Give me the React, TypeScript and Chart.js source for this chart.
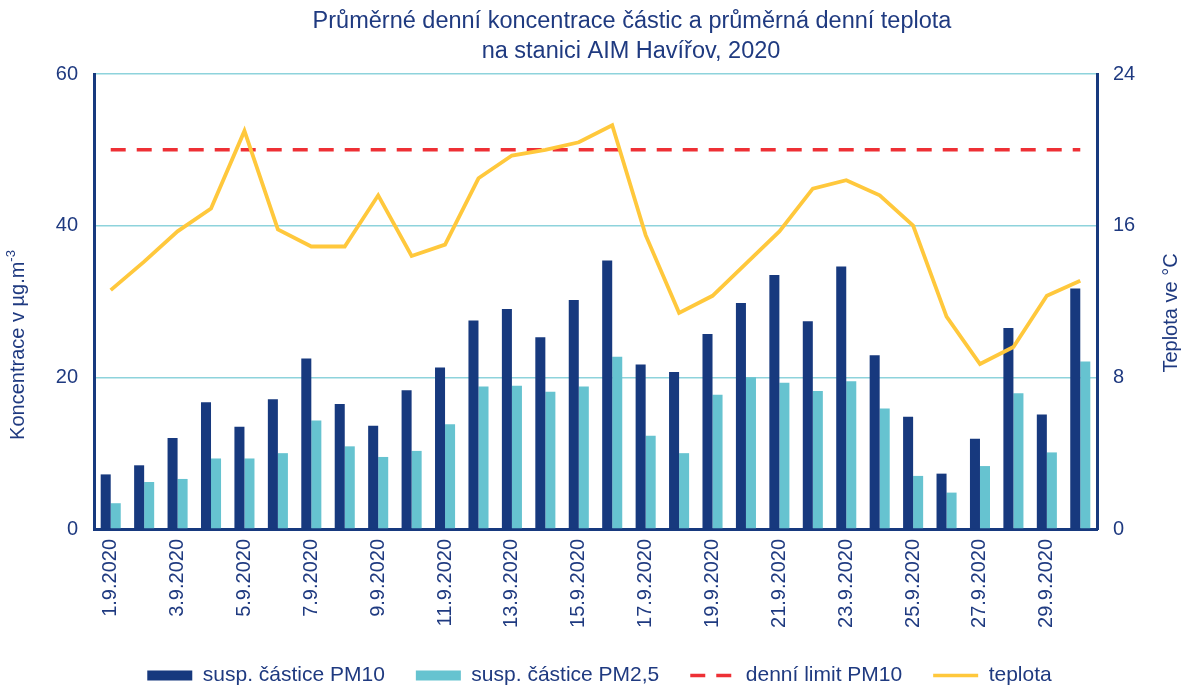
import React, { useEffect, useRef } from 'react';
import { Chart, registerables } from 'chart.js';

Chart.register(...registerables);

// ---------- data ----------
const DATES = [
  '1.9.2020', '2.9.2020', '3.9.2020', '4.9.2020', '5.9.2020', '6.9.2020',
  '7.9.2020', '8.9.2020', '9.9.2020', '10.9.2020', '11.9.2020', '12.9.2020',
  '13.9.2020', '14.9.2020', '15.9.2020', '16.9.2020', '17.9.2020', '18.9.2020',
  '19.9.2020', '20.9.2020', '21.9.2020', '22.9.2020', '23.9.2020', '24.9.2020',
  '25.9.2020', '26.9.2020', '27.9.2020', '28.9.2020', '29.9.2020', '30.9.2020',
];

const PM10 = [
  7.2, 8.4, 12.0, 16.7, 13.5, 17.1, 22.5, 16.5, 13.6, 18.3,
  21.3, 27.5, 29.0, 25.3, 30.2, 35.4, 21.7, 20.7, 25.7, 29.8,
  33.5, 27.4, 34.6, 22.9, 14.8, 7.3, 11.9, 26.5, 15.1, 31.7,
];

const PM25 = [
  3.4, 6.2, 6.6, 9.3, 9.3, 10.0, 14.3, 10.9, 9.5, 10.3,
  13.8, 18.8, 18.9, 18.1, 18.8, 22.7, 12.3, 10.0, 17.7, 20.0,
  19.3, 18.2, 19.5, 15.9, 7.0, 4.8, 8.3, 17.9, 10.1, 22.1,
];

const TEMP = [
  12.6, 14.1, 15.7, 16.9, 21.0, 15.8, 14.9, 14.9, 17.6, 14.4,
  15.0, 18.5, 19.7, 20.0, 20.4, 21.3, 15.5, 11.4, 12.3, 14.0,
  15.7, 17.95, 18.4, 17.6, 16.0, 11.2, 8.7, 9.6, 12.3, 13.1,
];

const LIMIT_PM10 = 50;

const SERIES_NAMES = ['susp. částice PM10', 'susp. částice PM2,5', 'denní limit PM10', 'teplota'];
const TITLE_LINES = ['Průměrné denní koncentrace částic a průměrná denní teplota', 'na stanici AIM Havířov, 2020'];
const Y_TITLE = 'Koncentrace v µg.m';
const Y_TITLE_SUP = '-3';
const Y1_TITLE = 'Teplota ve °C';

// ---------- styles ----------
const W = 1181;
const H = 686;
const FONT = '"Liberation Sans", Arial, sans-serif';
const TEXT = '#1F3A80';
const NAVY = '#17397E';
const CYAN = '#66C3D0';
const GRID = '#8ED3DC';
const RED = '#EE3035';
const YELLOW = '#FFC83C';

const PLOT_LEFT = 94;
const PLOT_RIGHT = 1097;
const PLOT_TOP = 74;
const PLOT_BOTTOM = 529;
const BOTTOM_PAD = -10;
const LEGEND_SHIFT = 9;

const textPlugin = {
  id: 'customTexts',
  beforeDraw(chart: any) {
    if (chart.legend) {
      chart.legend.left = LEGEND_SHIFT;
      chart.legend.right = W + LEGEND_SHIFT;
    }
  },
  afterDraw(chart: any) {
    const ctx = chart.ctx as CanvasRenderingContext2D;
    ctx.save();
    ctx.fillStyle = TEXT;
    ctx.textBaseline = 'middle';
    ctx.textAlign = 'center';
    ctx.font = `23.5px ${FONT}`;
    ctx.fillText(TITLE_LINES[0], 632, 22);
    ctx.fillText(TITLE_LINES[1], 631, 52);

    // left axis title (bottom-to-top)
    ctx.save();
    ctx.translate(18.5, 345);
    ctx.rotate(-Math.PI / 2);
    ctx.textAlign = 'left';
    ctx.font = `20px ${FONT}`;
    const w1 = ctx.measureText(Y_TITLE).width;
    ctx.font = `13px ${FONT}`;
    const w2 = ctx.measureText(Y_TITLE_SUP).width;
    const x0 = -(w1 + w2) / 2;
    ctx.font = `20px ${FONT}`;
    ctx.fillText(Y_TITLE, x0, 0);
    ctx.font = `13px ${FONT}`;
    ctx.fillText(Y_TITLE_SUP, x0 + w1, -7);
    ctx.restore();

    // right axis title (bottom-to-top)
    ctx.save();
    ctx.translate(1171, 313);
    ctx.rotate(-Math.PI / 2);
    ctx.textAlign = 'center';
    ctx.font = `20px ${FONT}`;
    ctx.fillText(Y1_TITLE, 0, 0);
    ctx.restore();

    ctx.restore();
  },
};

export default function App() {
  const canvasRef = useRef<HTMLCanvasElement | null>(null);

  useEffect(() => {
    document.body.style.margin = '0';
    const canvas = canvasRef.current;
    if (!canvas) return;

    Chart.defaults.font.family = FONT;
    Chart.defaults.font.size = 20;
    Chart.defaults.color = TEXT;

    const chart = new Chart(canvas, {
      type: 'bar',
      data: {
        labels: DATES,
        datasets: [
          {
            type: 'bar',
            label: SERIES_NAMES[0],
            data: PM10,
            backgroundColor: NAVY,
            borderWidth: 0,
            yAxisID: 'y',
            categoryPercentage: 0.6,
            barPercentage: 1.0,
            order: 2,
          },
          {
            type: 'bar',
            label: SERIES_NAMES[1],
            data: PM25,
            backgroundColor: CYAN,
            borderWidth: 0,
            yAxisID: 'y',
            categoryPercentage: 0.6,
            barPercentage: 1.0,
            order: 2,
          },
          {
            type: 'line',
            label: SERIES_NAMES[2],
            data: DATES.map(() => LIMIT_PM10),
            borderColor: RED,
            backgroundColor: RED,
            borderWidth: 3.5,
            borderDash: [15, 11],
            pointRadius: 0,
            tension: 0,
            fill: false,
            yAxisID: 'y',
            order: 1,
          },
          {
            type: 'line',
            label: SERIES_NAMES[3],
            data: TEMP,
            borderColor: YELLOW,
            backgroundColor: YELLOW,
            borderWidth: 3.8,
            pointRadius: 0,
            tension: 0,
            fill: false,
            yAxisID: 'y1',
            order: 0,
          },
        ] as any,
      },
      options: {
        responsive: false,
        animation: false,
        layout: { padding: { top: PLOT_TOP, left: 0, right: 0, bottom: BOTTOM_PAD } },
        plugins: {
          title: { display: false },
          tooltip: { enabled: false },
          legend: {
            display: true,
            position: 'bottom',
            labels: {
              usePointStyle: true,
              pointStyleWidth: 45,
              boxWidth: 45,
              boxHeight: 10,
              padding: 31,
              color: TEXT,
              font: { size: 21, family: FONT },
              generateLabels: (ch: any) => {
                const items = (Chart.defaults.plugins.legend.labels as any).generateLabels(ch);
                items.sort((a: any, b: any) => a.datasetIndex - b.datasetIndex);
                return items.map((it: any) => {
                  const ds: any = ch.data.datasets[it.datasetIndex];
                  const isBar = ds.type === 'bar';
                  return {
                    ...it,
                    pointStyle: isBar ? 'rect' : 'line',
                    fillStyle: isBar ? ds.backgroundColor : ds.borderColor,
                    strokeStyle: isBar ? ds.backgroundColor : ds.borderColor,
                    lineWidth: isBar ? 0 : 3.5,
                    lineDash: isBar ? [] : (ds.borderDash || []),
                    fontColor: TEXT,
                  };
                });
              },
            },
          },
        },
        scales: {
          x: {
            type: 'category',
            offset: true,
            grid: { display: false, drawTicks: false },
            border: { display: true, color: NAVY, width: 3 },
            ticks: {
              autoSkip: false,
              minRotation: 90,
              maxRotation: 90,
              padding: 10,
              color: TEXT,
              font: { size: 20 },
              callback: function (this: any, value: any, index: number) {
                return index % 2 === 0 ? DATES[index] : '';
              },
            },
            afterFit: (scale: any) => {
              const legendH = scale.chart.legend ? scale.chart.legend.height : 60;
              scale.height = H - PLOT_BOTTOM - legendH - BOTTOM_PAD;
            },
          },
          y: {
            type: 'linear',
            position: 'left',
            min: 0,
            max: 60,
            grid: { color: GRID, lineWidth: 1.5, drawTicks: false },
            border: { display: true, color: NAVY, width: 3 },
            ticks: { stepSize: 20, padding: 16, color: TEXT, font: { size: 20 } },
            afterFit: (scale: any) => {
              scale.width = PLOT_LEFT;
            },
          },
          y1: {
            type: 'linear',
            position: 'right',
            min: 0,
            max: 24,
            grid: { display: false, drawTicks: false },
            border: { display: true, color: NAVY, width: 3 },
            ticks: { stepSize: 8, padding: 16, color: TEXT, font: { size: 20 } },
            afterFit: (scale: any) => {
              scale.width = W - PLOT_RIGHT;
            },
          },
        },
      },
      plugins: [textPlugin],
    } as any);

    return () => {
      chart.destroy();
    };
  }, []);

  return (
    <div style={{ width: W, height: H }}>
      <canvas ref={canvasRef} width={W} height={H} style={{ display: 'block' }} />
    </div>
  );
}
